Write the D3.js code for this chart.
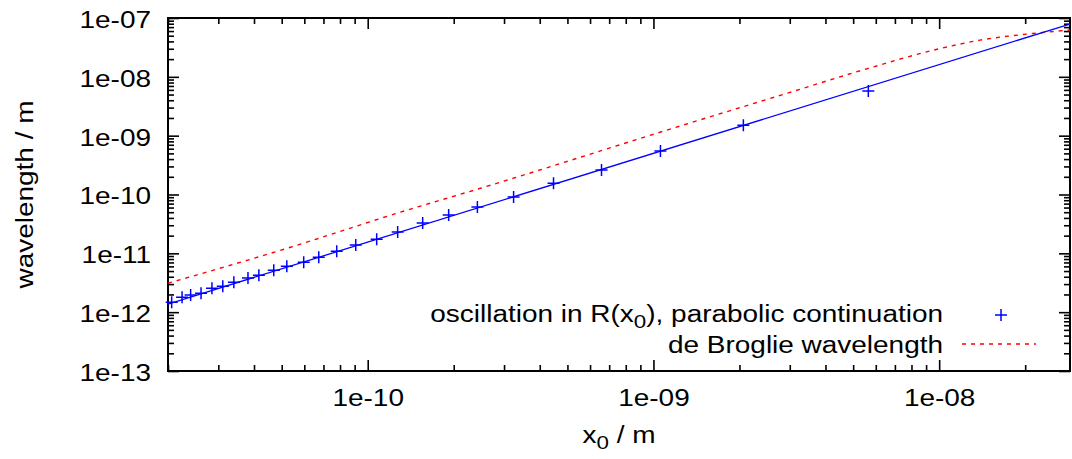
<!DOCTYPE html>
<html>
<head>
<meta charset="utf-8">
<script src="https://cdn.jsdelivr.net/npm/d3@7"></script>
<style>
  body { margin: 0; background: #fff; }
  text { font-family: "Liberation Sans", Arial, sans-serif; fill: #000; }
</style>
</head>
<body>
<div id="chart"></div>
<script>
// oscillation nodes in R(x0), parabolic continuation (x0 in m, wavelength in m)
var nodeX0 = [2.06e-11, 2.24e-11, 2.40e-11, 2.61e-11, 2.85e-11, 3.11e-11, 3.40e-11, 3.81e-11,
              4.16e-11, 4.69e-11, 5.21e-11, 5.97e-11, 6.74e-11, 7.79e-11, 9.08e-11, 1.075e-10,
              1.273e-10, 1.557e-10, 1.92e-10, 2.42e-10, 3.24e-10, 4.47e-10, 6.58e-10, 1.058e-9,
              2.064e-9, 5.65e-9];
var nodeWave = [1.48e-12, 1.80e-12, 1.95e-12, 2.10e-12, 2.56e-12, 2.77e-12, 3.24e-12, 3.79e-12,
                4.26e-12, 5.18e-12, 6.05e-12, 7.08e-12, 8.61e-12, 1.09e-11, 1.38e-11, 1.74e-11,
                2.30e-11, 3.27e-11, 4.47e-11, 6.11e-11, 9.03e-11, 1.56e-10, 2.60e-10, 5.47e-10,
                1.51e-9, 5.74e-9];

// power-law fit through the nodes (end points)
var fitX0 = [2.0e-11, 2.87e-8];
var fitWave = [1.37e-12, 7.9e-8];

// de Broglie wavelength
var brogX0 = [2.0e-11, 5.4e-11, 1.3e-10, 2.5e-10, 1.24e-9, 2.8e-9, 5.7e-9, 9.3e-9, 1.39e-8, 2.25e-8, 2.87e-8];
var brogWave = [3.1e-12, 1.28e-11, 5.0e-11, 1.29e-10, 1.46e-9, 4.9e-9, 1.41e-8, 2.75e-8, 4.2e-8, 5.6e-8, 6.25e-8];

var xTicks = [1e-10, 1e-9, 1e-8];
var xTickLabels = ["1e-10", "1e-09", "1e-08"];
var yTicks = [1e-13, 1e-12, 1e-11, 1e-10, 1e-9, 1e-8, 1e-7];
var yTickLabels = ["1e-13", "1e-12", "1e-11", "1e-10", "1e-09", "1e-08", "1e-07"];

var legendLabels = ["oscillation in R(x", "0", "), parabolic continuation", "de Broglie wavelength"];

// 1: dimensions
var margin = {top: 18, right: 2, bottom: 88, left: 168};
var W = 1072, H = 459;
var width = W - margin.left - margin.right,
    height = H - margin.top - margin.bottom;
var fs = 23.5, sx = 1.19;   // gnuplot font is wider than Liberation Sans

var svg = d3.select("#chart").append("svg")
    .attr("width", W)
    .attr("height", H)
  .append("g")
    .attr("transform", "translate(" + margin.left + "," + margin.top + ")");

// 2: scales
var x = d3.scaleLog().domain([2e-11, 2.87e-8]).range([0, width]);
var y = d3.scaleLog().domain([1e-13, 1e-7]).range([height, 0]);

function minors(lo, hi) {
  var out = [];
  for (var e = Math.floor(Math.log10(lo)); e <= Math.ceil(Math.log10(hi)); e++) {
    for (var m = 2; m <= 9; m++) {
      var v = m * Math.pow(10, e);
      if (v >= lo * 0.999 && v <= hi * 1.001) out.push(v);
    }
  }
  return out;
}
var xMinor = minors(2e-11, 2.87e-8), yMinor = minors(1e-13, 1e-7);

// 3: axes (inward ticks on all four sides)
var major = 11, minor = 6;
function styleAxis(g) {
  g.attr("font-size", fs).attr("font-family", null);
  g.select(".domain").remove();
  g.selectAll(".tick line").attr("stroke", "#000").attr("stroke-width", 1.6);
}

svg.append("g").attr("transform", "translate(0," + height + ")")
  .call(d3.axisBottom(x).tickValues(xMinor).tickSize(-minor).tickFormat("")).call(styleAxis);
svg.append("g").attr("transform", "translate(0,0)")
  .call(d3.axisTop(x).tickValues(xMinor).tickSize(-minor).tickFormat("")).call(styleAxis);
svg.append("g").attr("transform", "translate(0,0)")
  .call(d3.axisLeft(y).tickValues(yMinor).tickSize(-minor).tickFormat("")).call(styleAxis);
svg.append("g").attr("transform", "translate(" + width + ",0)")
  .call(d3.axisRight(y).tickValues(yMinor).tickSize(-minor).tickFormat("")).call(styleAxis);

var xAxisG = svg.append("g").attr("transform", "translate(0," + height + ")")
  .call(d3.axisBottom(x).tickValues(xTicks).tickSize(-major)
    .tickFormat(function(d, i) { return xTickLabels[i]; }))
  .call(styleAxis);
xAxisG.selectAll("text").attr("y", 27).attr("dy", "0.36em").attr("transform", "scale(" + sx + ",1)");

svg.append("g").attr("transform", "translate(0,0)")
  .call(d3.axisTop(x).tickValues(xTicks).tickSize(-major).tickFormat("")).call(styleAxis);

var yAxisG = svg.append("g")
  .call(d3.axisLeft(y).tickValues(yTicks).tickSize(-major)
    .tickFormat(function(d, i) { return yTickLabels[i]; }))
  .call(styleAxis);
yAxisG.selectAll("text").attr("x", -17 / sx).attr("dy", "0.40em").attr("transform", "scale(" + sx + ",1)");

svg.append("g").attr("transform", "translate(" + width + ",0)")
  .call(d3.axisRight(y).tickValues(yTicks).tickSize(-major).tickFormat("")).call(styleAxis);

// frame
svg.append("rect")
  .attr("width", width).attr("height", height)
  .attr("fill", "none").attr("stroke", "#000").attr("stroke-width", 2);

// 4: axis labels
var xl = svg.append("g").attr("transform", "translate(" + (width / 2) + "," + (height + 72) + ")")
  .append("text").attr("text-anchor", "middle").attr("font-size", fs)
  .attr("transform", "scale(" + sx + ",1)");
xl.append("tspan").text("x");
xl.append("tspan").attr("font-size", fs * 0.8).attr("dy", 6).text("0");
xl.append("tspan").attr("dy", -6).text(" / m");

svg.append("g").attr("transform", "translate(" + (33 - margin.left) + "," + (height / 2) + ") rotate(-90)")
  .append("text").attr("text-anchor", "middle").attr("font-size", fs)
  .attr("transform", "scale(" + sx + ",1)")
  .text("wavelength / m");

// 5: data
svg.append("clipPath").attr("id", "clip")
  .append("rect").attr("width", width).attr("height", height);
var plot = svg.append("g").attr("clip-path", "url(#clip)");

var line = d3.line()
    .x(function(d) { return x(d[0]); })
    .y(function(d) { return y(d[1]); });

plot.append("path")
  .attr("d", line.curve(d3.curveMonotoneX)(brogX0.map(function(v, i) { return [v, brogWave[i]]; })))
  .attr("fill", "none").attr("stroke", "#ff0000").attr("stroke-width", 1.4)
  .attr("stroke-dasharray", "4,5");

plot.append("path")
  .attr("d", line.curve(d3.curveLinear)(fitX0.map(function(v, i) { return [v, fitWave[i]]; })))
  .attr("fill", "none").attr("stroke", "#0000ff").attr("stroke-width", 1.3);

var cross = "M-6,0H6M0,-6V6";
svg.selectAll(".node")
  .data(nodeX0.map(function(v, i) { return [v, nodeWave[i]]; }))
  .enter().append("path")
    .attr("class", "node")
    .attr("transform", function(d) { return "translate(" + x(d[0]) + "," + y(d[1]) + ")"; })
    .attr("d", cross)
    .attr("fill", "none").attr("stroke", "#0000ff").attr("stroke-width", 1.5);

// 6: legend
var lx = 943 - margin.left;
var l1 = svg.append("g").attr("transform", "translate(" + lx + "," + (314 - margin.top) + ")")
  .append("text").attr("text-anchor", "end").attr("font-size", fs).attr("dy", "0.36em")
  .attr("transform", "scale(" + sx + ",1)");
l1.append("tspan").text(legendLabels[0]);
l1.append("tspan").attr("font-size", fs * 0.8).attr("dy", 6).text(legendLabels[1]);
l1.append("tspan").attr("dy", -6).text(legendLabels[2]);

svg.append("g").attr("transform", "translate(" + lx + "," + (345 - margin.top) + ")")
  .append("text").attr("text-anchor", "end").attr("font-size", fs).attr("dy", "0.36em")
  .attr("transform", "scale(" + sx + ",1)")
  .text(legendLabels[3]);

svg.append("path")
  .attr("transform", "translate(" + (1001 - margin.left) + "," + (315 - margin.top) + ")")
  .attr("d", cross)
  .attr("fill", "none").attr("stroke", "#0000ff").attr("stroke-width", 1.5);

svg.append("line")
  .attr("x1", 962 - margin.left).attr("x2", 1036 - margin.left)
  .attr("y1", 344 - margin.top).attr("y2", 344 - margin.top)
  .attr("stroke", "#ff0000").attr("stroke-width", 1.4).attr("stroke-dasharray", "4,5");
</script>
</body>
</html>
